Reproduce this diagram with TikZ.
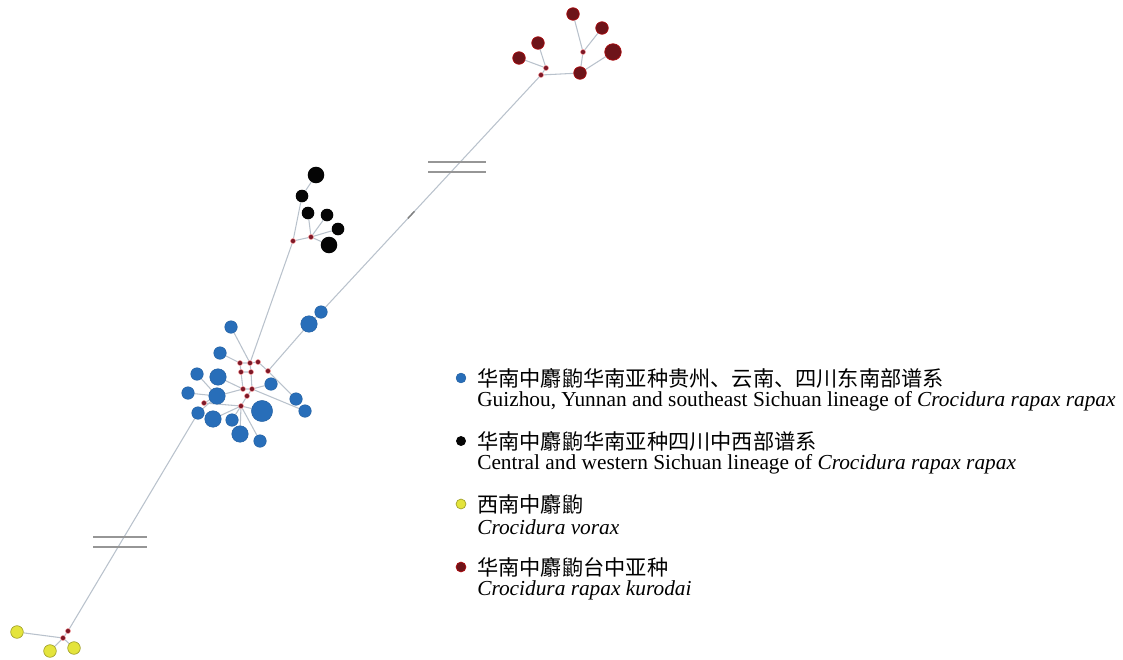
\documentclass[tikz,border=0pt]{standalone}
\usepackage{fontspec}
\setmainfont{Liberation Serif}
\newfontfamily\cjk{Noto Sans CJK SC}
\usepackage{tikz}
\usetikzlibrary{calc, backgrounds}
\definecolor{hapblue}{RGB}{40,110,185}
\definecolor{hapblack}{RGB}{5,5,5}
\definecolor{hapyellow}{RGB}{228,228,60}
\definecolor{hapbrown}{RGB}{110,20,25}
\definecolor{medred}{RGB}{125,25,40}
\definecolor{edgegray}{RGB}{185,194,204}
\definecolor{breakgray}{RGB}{150,150,150}
\tikzset{
  bluehap/.style={circle, fill=hapblue, draw=hapblue!85!black, line width=0.3pt,
    inner sep=0pt, minimum size=#1},
  bluehap/.default=9.5pt,
  blackhap/.style={circle, fill=hapblack, inner sep=0pt, minimum size=#1},
  blackhap/.default=9.5pt,
  yellowhap/.style={circle, fill=hapyellow, draw=hapyellow!70!black, line width=0.5pt,
    inner sep=0pt, minimum size=#1},
  yellowhap/.default=9.5pt,
  brownhap/.style={circle, fill=hapbrown, draw=red!45!hapbrown, line width=0.5pt,
    inner sep=0pt, minimum size=#1},
  brownhap/.default=9.5pt,
  median/.style={circle, fill=medred, draw=red!40, line width=0.3pt,
    inner sep=0pt, minimum size=3.8pt},
  link/.style={color=edgegray, line width=0.8pt},
  breakmark/.style={color=breakgray, line width=1.3pt},
  cnlabel/.style={anchor=west, inner sep=0pt, font=\cjk\fontsize{16}{19}\selectfont},
  enlabel/.style={anchor=west, inner sep=0pt, font=\fontsize{16.1}{19}\selectfont}
}
\begin{document}
\begin{tikzpicture}[x=0.0265cm, y=-0.0265cm]
  \useasboundingbox (0,0) rectangle (1123,659);

  % Guizhou, Yunnan and SE Sichuan haplotypes (blue)
  \node[bluehap] (b1) at (231,327) {};
  \node[bluehap] (b2) at (220,353) {};
  \node[bluehap=12.5pt] (b3) at (218,377) {};
  \node[bluehap] (b4) at (197,374) {};
  \node[bluehap] (b5) at (188,393) {};
  \node[bluehap=12.5pt] (b6) at (217,396) {};
  \node[bluehap] (b7) at (198,413) {};
  \node[bluehap=12.5pt] (b8) at (213,419) {};
  \node[bluehap] (b9) at (232,420) {};
  \node[bluehap=12.5pt] (b10) at (240,434) {};
  \node[bluehap] (b11) at (260,441) {};
  \node[bluehap=16pt] (b12) at (262,411) {};
  \node[bluehap] (b13) at (271,384) {};
  \node[bluehap] (b14) at (296,399) {};
  \node[bluehap] (b15) at (305,411) {};
  \node[bluehap=12.5pt] (b16) at (309,324) {};
  \node[bluehap] (b17) at (321,312) {};

  % median vectors inside the blue cluster
  \node[median] (m1) at (240,363) {};
  \node[median] (m2) at (250,363) {};
  \node[median] (m3) at (258,362) {};
  \node[median] (m4) at (241,372) {};
  \node[median] (m5) at (251,372) {};
  \node[median] (m6) at (268,371) {};
  \node[median] (m7) at (243,389) {};
  \node[median] (m8) at (252,389) {};
  \node[median] (m9) at (247,396) {};
  \node[median] (m10) at (241,406) {};
  \node[median] (m11) at (204,403) {};

  % Central and western Sichuan haplotypes (black)
  \node[blackhap=12.5pt] (k1) at (316,175) {};
  \node[blackhap] (k2) at (302,196) {};
  \node[blackhap] (k3) at (308,213) {};
  \node[blackhap] (k4) at (327,215) {};
  \node[blackhap] (k5) at (338,229) {};
  \node[blackhap=12.5pt] (k6) at (329,245) {};
  \node[median] (km1) at (293,241) {};
  \node[median] (km2) at (311,237) {};

  % kurodai haplotypes (brown)
  \node[brownhap] (r1) at (573,14) {};
  \node[brownhap] (r2) at (602,28) {};
  \node[brownhap] (r3) at (538,43) {};
  \node[brownhap=12.5pt] (r4) at (613,52) {};
  \node[brownhap] (r5) at (519,58) {};
  \node[brownhap] (r6) at (580,73) {};
  \node[median] (rm1) at (583,52) {};
  \node[median] (rm2) at (546,68) {};
  \node[median] (rm3) at (541,75) {};

  % vorax haplotypes (yellow)
  \node[yellowhap] (y1) at (17,632) {};
  \node[yellowhap] (y2) at (50,651) {};
  \node[yellowhap] (y3) at (74,648) {};
  \node[median] (ym1) at (68,631) {};
  \node[median] (ym2) at (63,638) {};

  % links (kept behind the haplotypes)
  \begin{scope}[on background layer]
    \draw[link] (b1) -- (m2);
    \draw[link] (b2) -- (m1);
    \draw[link] (m1) -- (m2) -- (m3);
    \draw[link] (m1) -- (m4) -- (m5) -- (m2);
    \draw[link] (m3) -- (m6);
    \draw[link] (m4) -- (m7) -- (m8) -- (m5);
    \draw[link] (m8) -- (m9) -- (m10);
    \draw[link] (m6) -- (b16) -- (b17);
    \draw[link] (m6) -- (b14);
    \draw[link] (m8) -- (b15);
    \draw[link] (m8) -- (b13);
    \draw[link] (b3) -- (m7);
    \draw[link] (b6) -- (m7);
    \draw[link] (b4) -- (b6);
    \draw[link] (b5) -- (b6);
    \draw[link] (b7) -- (b6);
    \draw[link] (b6) -- (m11) -- (m10);
    \draw[link] (b8) -- (m10);
    \draw[link] (b9) -- (m10);
    \draw[link] (b10) -- (m10);
    \draw[link] (b11) -- (m10);
    \draw[link] (b12) -- (m10);
    % black cluster
    \draw[link] (km1) -- (m2);
    \draw[link] (k1) -- (k2) -- (km1) -- (km2);
    \draw[link] (km2) -- (k3);
    \draw[link] (km2) -- (k4);
    \draw[link] (km2) -- (k5);
    \draw[link] (km2) -- (k6);
    % brown cluster
    \draw[link] (b17) -- (rm3);
    \draw[link] (r1) -- (rm1);
    \draw[link] (r2) -- (rm1);
    \draw[link] (rm1) -- (r6);
    \draw[link] (r4) -- (r6);
    \draw[link] (r6) -- (rm3);
    \draw[link] (r3) -- (rm2);
    \draw[link] (r5) -- (rm2);
    \draw[link] (rm2) -- (rm3);
    % yellow cluster
    \draw[link] (b7) -- (ym1);
    \draw[link] (ym1) -- (ym2);
    \draw[link] (y1) -- (ym2);
    \draw[link] (y2) -- (ym2);
    \draw[link] (y3) -- (ym2);
    % short dark step on the long branch
    \draw[color=gray, line width=1.1pt] ($(rm3)!0.575!(b17)$) -- ($(rm3)!0.605!(b17)$);
  \end{scope}

  % breaks on the long branches
  \draw[breakmark] (428,162) -- (486,162);
  \draw[breakmark] (428,172) -- (486,172);
  \draw[breakmark] (93,537) -- (147,537);
  \draw[breakmark] (93,547) -- (147,547);

  % legend
  \node[bluehap=7.5pt] (lg1) at (461,378) {};
  \node[cnlabel] (cn1) at (477,378) {华南中麝鼩华南亚种贵州、云南、四川东南部谱系};
  \node[enlabel] (en1) at (477,401) {Guizhou, Yunnan and southeast Sichuan lineage of \textit{Crocidura rapax rapax}};
  \node[blackhap=7.5pt] (lg2) at (461,441) {};
  \node[cnlabel] (cn2) at (477,441) {华南中麝鼩华南亚种四川中西部谱系};
  \node[enlabel] (en2) at (477,464) {Central and western Sichuan lineage of \textit{Crocidura rapax rapax}};
  \node[yellowhap=7.5pt] (lg3) at (461,504) {};
  \node[cnlabel] (cn3) at (477,504) {西南中麝鼩};
  \node[enlabel] (en3) at (477,527) {\textit{Crocidura vorax}};
  \node[brownhap=7.5pt] (lg4) at (461,567) {};
  \node[cnlabel] (cn4) at (477,567) {华南中麝鼩台中亚种};
  \node[enlabel] (en4) at (477,590) {\textit{Crocidura rapax kurodai}};
\end{tikzpicture}
\end{document}
